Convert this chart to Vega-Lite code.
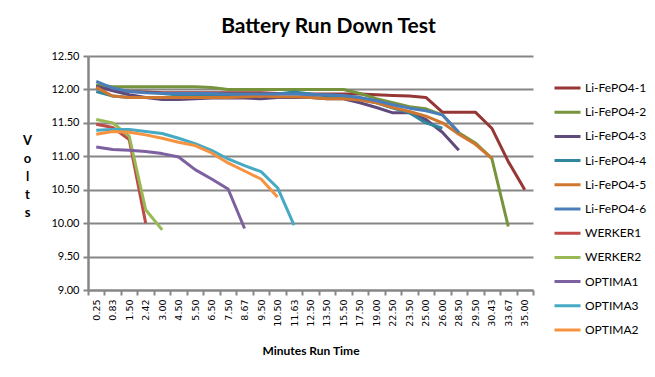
{
  "$schema": "https://vega.github.io/schema/vega-lite/v6.json",
  "width": 445,
  "height": 234,
  "autosize": {"type": "none"},
  "padding": {"left": 88, "top": 56, "right": 122, "bottom": 87},
  "background": "white",
  "title": {"text": "Battery Run Down Test", "font": "Lato", "fontSize": 21, "fontWeight": "bold", "color": "#000000", "anchor": "middle", "dx": 18, "baseline": "alphabetic", "offset": -4},
  "config": {"view": {"stroke": null}},
  "data": {"values": [
    {"Minutes":"0.25","Series":"Li-FePO4-1","Volts":12.05},{"Minutes":"0.83","Series":"Li-FePO4-1","Volts":12.00},{"Minutes":"1.50","Series":"Li-FePO4-1","Volts":11.97},{"Minutes":"2.42","Series":"Li-FePO4-1","Volts":11.96},{"Minutes":"3.00","Series":"Li-FePO4-1","Volts":11.95},{"Minutes":"4.50","Series":"Li-FePO4-1","Volts":11.95},{"Minutes":"5.50","Series":"Li-FePO4-1","Volts":11.95},{"Minutes":"6.50","Series":"Li-FePO4-1","Volts":11.95},{"Minutes":"7.50","Series":"Li-FePO4-1","Volts":11.95},{"Minutes":"8.67","Series":"Li-FePO4-1","Volts":11.95},{"Minutes":"9.50","Series":"Li-FePO4-1","Volts":11.95},{"Minutes":"10.50","Series":"Li-FePO4-1","Volts":11.94},{"Minutes":"11.63","Series":"Li-FePO4-1","Volts":11.94},{"Minutes":"12.50","Series":"Li-FePO4-1","Volts":11.93},{"Minutes":"13.50","Series":"Li-FePO4-1","Volts":11.93},{"Minutes":"15.50","Series":"Li-FePO4-1","Volts":11.93},{"Minutes":"17.50","Series":"Li-FePO4-1","Volts":11.93},{"Minutes":"19.00","Series":"Li-FePO4-1","Volts":11.92},{"Minutes":"22.50","Series":"Li-FePO4-1","Volts":11.91},{"Minutes":"23.50","Series":"Li-FePO4-1","Volts":11.90},{"Minutes":"25.00","Series":"Li-FePO4-1","Volts":11.88},{"Minutes":"26.00","Series":"Li-FePO4-1","Volts":11.66},{"Minutes":"28.50","Series":"Li-FePO4-1","Volts":11.66},{"Minutes":"29.50","Series":"Li-FePO4-1","Volts":11.66},{"Minutes":"30.43","Series":"Li-FePO4-1","Volts":11.42},{"Minutes":"33.67","Series":"Li-FePO4-1","Volts":10.92},{"Minutes":"35.00","Series":"Li-FePO4-1","Volts":10.50},
    {"Minutes":"0.25","Series":"Li-FePO4-2","Volts":12.07},{"Minutes":"0.83","Series":"Li-FePO4-2","Volts":12.04},{"Minutes":"1.50","Series":"Li-FePO4-2","Volts":12.04},{"Minutes":"2.42","Series":"Li-FePO4-2","Volts":12.04},{"Minutes":"3.00","Series":"Li-FePO4-2","Volts":12.04},{"Minutes":"4.50","Series":"Li-FePO4-2","Volts":12.04},{"Minutes":"5.50","Series":"Li-FePO4-2","Volts":12.04},{"Minutes":"6.50","Series":"Li-FePO4-2","Volts":12.03},{"Minutes":"7.50","Series":"Li-FePO4-2","Volts":12.00},{"Minutes":"8.67","Series":"Li-FePO4-2","Volts":12.00},{"Minutes":"9.50","Series":"Li-FePO4-2","Volts":12.00},{"Minutes":"10.50","Series":"Li-FePO4-2","Volts":12.00},{"Minutes":"11.63","Series":"Li-FePO4-2","Volts":12.00},{"Minutes":"12.50","Series":"Li-FePO4-2","Volts":12.00},{"Minutes":"13.50","Series":"Li-FePO4-2","Volts":12.00},{"Minutes":"15.50","Series":"Li-FePO4-2","Volts":12.00},{"Minutes":"17.50","Series":"Li-FePO4-2","Volts":11.94},{"Minutes":"19.00","Series":"Li-FePO4-2","Volts":11.86},{"Minutes":"22.50","Series":"Li-FePO4-2","Volts":11.80},{"Minutes":"23.50","Series":"Li-FePO4-2","Volts":11.74},{"Minutes":"25.00","Series":"Li-FePO4-2","Volts":11.71},{"Minutes":"26.00","Series":"Li-FePO4-2","Volts":11.62},{"Minutes":"28.50","Series":"Li-FePO4-2","Volts":11.35},{"Minutes":"29.50","Series":"Li-FePO4-2","Volts":11.20},{"Minutes":"30.43","Series":"Li-FePO4-2","Volts":10.97},{"Minutes":"33.67","Series":"Li-FePO4-2","Volts":9.95},
    {"Minutes":"0.25","Series":"Li-FePO4-3","Volts":12.05},{"Minutes":"0.83","Series":"Li-FePO4-3","Volts":11.98},{"Minutes":"1.50","Series":"Li-FePO4-3","Volts":11.92},{"Minutes":"2.42","Series":"Li-FePO4-3","Volts":11.88},{"Minutes":"3.00","Series":"Li-FePO4-3","Volts":11.85},{"Minutes":"4.50","Series":"Li-FePO4-3","Volts":11.85},{"Minutes":"5.50","Series":"Li-FePO4-3","Volts":11.86},{"Minutes":"6.50","Series":"Li-FePO4-3","Volts":11.87},{"Minutes":"7.50","Series":"Li-FePO4-3","Volts":11.87},{"Minutes":"8.67","Series":"Li-FePO4-3","Volts":11.87},{"Minutes":"9.50","Series":"Li-FePO4-3","Volts":11.86},{"Minutes":"10.50","Series":"Li-FePO4-3","Volts":11.88},{"Minutes":"11.63","Series":"Li-FePO4-3","Volts":11.88},{"Minutes":"12.50","Series":"Li-FePO4-3","Volts":11.88},{"Minutes":"13.50","Series":"Li-FePO4-3","Volts":11.86},{"Minutes":"15.50","Series":"Li-FePO4-3","Volts":11.86},{"Minutes":"17.50","Series":"Li-FePO4-3","Volts":11.80},{"Minutes":"19.00","Series":"Li-FePO4-3","Volts":11.73},{"Minutes":"22.50","Series":"Li-FePO4-3","Volts":11.65},{"Minutes":"23.50","Series":"Li-FePO4-3","Volts":11.65},{"Minutes":"25.00","Series":"Li-FePO4-3","Volts":11.55},{"Minutes":"26.00","Series":"Li-FePO4-3","Volts":11.36},{"Minutes":"28.50","Series":"Li-FePO4-3","Volts":11.09},
    {"Minutes":"0.25","Series":"Li-FePO4-4","Volts":11.97},{"Minutes":"0.83","Series":"Li-FePO4-4","Volts":11.90},{"Minutes":"1.50","Series":"Li-FePO4-4","Volts":11.88},{"Minutes":"2.42","Series":"Li-FePO4-4","Volts":11.88},{"Minutes":"3.00","Series":"Li-FePO4-4","Volts":11.88},{"Minutes":"4.50","Series":"Li-FePO4-4","Volts":11.90},{"Minutes":"5.50","Series":"Li-FePO4-4","Volts":11.90},{"Minutes":"6.50","Series":"Li-FePO4-4","Volts":11.90},{"Minutes":"7.50","Series":"Li-FePO4-4","Volts":11.90},{"Minutes":"8.67","Series":"Li-FePO4-4","Volts":11.90},{"Minutes":"9.50","Series":"Li-FePO4-4","Volts":11.92},{"Minutes":"10.50","Series":"Li-FePO4-4","Volts":11.93},{"Minutes":"11.63","Series":"Li-FePO4-4","Volts":11.96},{"Minutes":"12.50","Series":"Li-FePO4-4","Volts":11.93},{"Minutes":"13.50","Series":"Li-FePO4-4","Volts":11.90},{"Minutes":"15.50","Series":"Li-FePO4-4","Volts":11.88},{"Minutes":"17.50","Series":"Li-FePO4-4","Volts":11.85},{"Minutes":"19.00","Series":"Li-FePO4-4","Volts":11.80},{"Minutes":"22.50","Series":"Li-FePO4-4","Volts":11.72},{"Minutes":"23.50","Series":"Li-FePO4-4","Volts":11.65},{"Minutes":"25.00","Series":"Li-FePO4-4","Volts":11.50},{"Minutes":"26.00","Series":"Li-FePO4-4","Volts":11.42},
    {"Minutes":"0.25","Series":"Li-FePO4-5","Volts":12.03},{"Minutes":"0.83","Series":"Li-FePO4-5","Volts":11.90},{"Minutes":"1.50","Series":"Li-FePO4-5","Volts":11.88},{"Minutes":"2.42","Series":"Li-FePO4-5","Volts":11.88},{"Minutes":"3.00","Series":"Li-FePO4-5","Volts":11.88},{"Minutes":"4.50","Series":"Li-FePO4-5","Volts":11.88},{"Minutes":"5.50","Series":"Li-FePO4-5","Volts":11.88},{"Minutes":"6.50","Series":"Li-FePO4-5","Volts":11.88},{"Minutes":"7.50","Series":"Li-FePO4-5","Volts":11.88},{"Minutes":"8.67","Series":"Li-FePO4-5","Volts":11.89},{"Minutes":"9.50","Series":"Li-FePO4-5","Volts":11.90},{"Minutes":"10.50","Series":"Li-FePO4-5","Volts":11.89},{"Minutes":"11.63","Series":"Li-FePO4-5","Volts":11.89},{"Minutes":"12.50","Series":"Li-FePO4-5","Volts":11.88},{"Minutes":"13.50","Series":"Li-FePO4-5","Volts":11.86},{"Minutes":"15.50","Series":"Li-FePO4-5","Volts":11.86},{"Minutes":"17.50","Series":"Li-FePO4-5","Volts":11.84},{"Minutes":"19.00","Series":"Li-FePO4-5","Volts":11.80},{"Minutes":"22.50","Series":"Li-FePO4-5","Volts":11.73},{"Minutes":"23.50","Series":"Li-FePO4-5","Volts":11.67},{"Minutes":"25.00","Series":"Li-FePO4-5","Volts":11.60},{"Minutes":"26.00","Series":"Li-FePO4-5","Volts":11.50},{"Minutes":"28.50","Series":"Li-FePO4-5","Volts":11.33},{"Minutes":"29.50","Series":"Li-FePO4-5","Volts":11.18},{"Minutes":"30.43","Series":"Li-FePO4-5","Volts":10.97},
    {"Minutes":"0.25","Series":"Li-FePO4-6","Volts":12.12},{"Minutes":"0.83","Series":"Li-FePO4-6","Volts":12.02},{"Minutes":"1.50","Series":"Li-FePO4-6","Volts":11.97},{"Minutes":"2.42","Series":"Li-FePO4-6","Volts":11.95},{"Minutes":"3.00","Series":"Li-FePO4-6","Volts":11.94},{"Minutes":"4.50","Series":"Li-FePO4-6","Volts":11.94},{"Minutes":"5.50","Series":"Li-FePO4-6","Volts":11.94},{"Minutes":"6.50","Series":"Li-FePO4-6","Volts":11.94},{"Minutes":"7.50","Series":"Li-FePO4-6","Volts":11.93},{"Minutes":"8.67","Series":"Li-FePO4-6","Volts":11.93},{"Minutes":"9.50","Series":"Li-FePO4-6","Volts":11.93},{"Minutes":"10.50","Series":"Li-FePO4-6","Volts":11.93},{"Minutes":"11.63","Series":"Li-FePO4-6","Volts":11.93},{"Minutes":"12.50","Series":"Li-FePO4-6","Volts":11.92},{"Minutes":"13.50","Series":"Li-FePO4-6","Volts":11.92},{"Minutes":"15.50","Series":"Li-FePO4-6","Volts":11.91},{"Minutes":"17.50","Series":"Li-FePO4-6","Volts":11.88},{"Minutes":"19.00","Series":"Li-FePO4-6","Volts":11.83},{"Minutes":"22.50","Series":"Li-FePO4-6","Volts":11.77},{"Minutes":"23.50","Series":"Li-FePO4-6","Volts":11.72},{"Minutes":"25.00","Series":"Li-FePO4-6","Volts":11.68},{"Minutes":"26.00","Series":"Li-FePO4-6","Volts":11.62},{"Minutes":"28.50","Series":"Li-FePO4-6","Volts":11.36},
    {"Minutes":"0.25","Series":"WERKER1","Volts":11.48},{"Minutes":"0.83","Series":"WERKER1","Volts":11.43},{"Minutes":"1.50","Series":"WERKER1","Volts":11.25},{"Minutes":"2.42","Series":"WERKER1","Volts":10.00},
    {"Minutes":"0.25","Series":"WERKER2","Volts":11.55},{"Minutes":"0.83","Series":"WERKER2","Volts":11.50},{"Minutes":"1.50","Series":"WERKER2","Volts":11.30},{"Minutes":"2.42","Series":"WERKER2","Volts":10.20},{"Minutes":"3.00","Series":"WERKER2","Volts":9.90},
    {"Minutes":"0.25","Series":"OPTIMA1","Volts":11.14},{"Minutes":"0.83","Series":"OPTIMA1","Volts":11.10},{"Minutes":"1.50","Series":"OPTIMA1","Volts":11.09},{"Minutes":"2.42","Series":"OPTIMA1","Volts":11.07},{"Minutes":"3.00","Series":"OPTIMA1","Volts":11.04},{"Minutes":"4.50","Series":"OPTIMA1","Volts":10.99},{"Minutes":"5.50","Series":"OPTIMA1","Volts":10.80},{"Minutes":"6.50","Series":"OPTIMA1","Volts":10.66},{"Minutes":"7.50","Series":"OPTIMA1","Volts":10.51},{"Minutes":"8.67","Series":"OPTIMA1","Volts":9.92},
    {"Minutes":"0.25","Series":"OPTIMA3","Volts":11.39},{"Minutes":"0.83","Series":"OPTIMA3","Volts":11.40},{"Minutes":"1.50","Series":"OPTIMA3","Volts":11.40},{"Minutes":"2.42","Series":"OPTIMA3","Volts":11.37},{"Minutes":"3.00","Series":"OPTIMA3","Volts":11.34},{"Minutes":"4.50","Series":"OPTIMA3","Volts":11.27},{"Minutes":"5.50","Series":"OPTIMA3","Volts":11.19},{"Minutes":"6.50","Series":"OPTIMA3","Volts":11.09},{"Minutes":"7.50","Series":"OPTIMA3","Volts":10.96},{"Minutes":"8.67","Series":"OPTIMA3","Volts":10.86},{"Minutes":"9.50","Series":"OPTIMA3","Volts":10.77},{"Minutes":"10.50","Series":"OPTIMA3","Volts":10.53},{"Minutes":"11.63","Series":"OPTIMA3","Volts":9.97},
    {"Minutes":"0.25","Series":"OPTIMA2","Volts":11.33},{"Minutes":"0.83","Series":"OPTIMA2","Volts":11.37},{"Minutes":"1.50","Series":"OPTIMA2","Volts":11.36},{"Minutes":"2.42","Series":"OPTIMA2","Volts":11.32},{"Minutes":"3.00","Series":"OPTIMA2","Volts":11.27},{"Minutes":"4.50","Series":"OPTIMA2","Volts":11.21},{"Minutes":"5.50","Series":"OPTIMA2","Volts":11.16},{"Minutes":"6.50","Series":"OPTIMA2","Volts":11.05},{"Minutes":"7.50","Series":"OPTIMA2","Volts":10.90},{"Minutes":"8.67","Series":"OPTIMA2","Volts":10.78},{"Minutes":"9.50","Series":"OPTIMA2","Volts":10.66},{"Minutes":"10.50","Series":"OPTIMA2","Volts":10.39}
  ]},
  "mark": {"type": "line", "strokeWidth": 3, "strokeJoin": "round", "strokeCap": "butt"},
  "encoding": {
    "x": {
      "field": "Minutes", "type": "ordinal", "bandPosition": 0.5,
      "scale": {"type": "band", "paddingInner": 0, "paddingOuter": 0, "domain": ["0.25","0.83","1.50","2.42","3.00","4.50","5.50","6.50","7.50","8.67","9.50","10.50","11.63","12.50","13.50","15.50","17.50","19.00","22.50","23.50","25.00","26.00","28.50","29.50","30.43","33.67","35.00"]},
      "axis": {
        "title": "Minutes Run Time", "titleFont": "Lato", "titleFontSize": 12, "titleFontWeight": "bold", "titleColor": "#000000", "titlePadding": 19,
        "labelAngle": -90, "labelFont": "DejaVu Sans", "labelFontSize": 9.5, "labelColor": "#000000", "labelPadding": 4,
        "tickBand": "extent", "tickSize": 5, "tickColor": "#868686", "tickWidth": 2,
        "domainColor": "#868686", "domainWidth": 2, "grid": false
      }
    },
    "y": {
      "field": "Volts", "type": "quantitative",
      "scale": {"domain": [9, 12.5], "nice": false, "zero": false},
      "axis": {
        "values": [9, 9.5, 10, 10.5, 11, 11.5, 12, 12.5], "format": ".2f",
        "labelFont": "Lato", "labelFontSize": 11, "labelColor": "#000000", "labelPadding": 4,
        "tickSize": 5, "tickColor": "#868686", "tickWidth": 2,
        "domainColor": "#868686", "domainWidth": 2.5,
        "grid": true, "gridColor": "#868686", "gridWidth": 2,
        "title": ["V", "o", "l", "t", "s"], "titleAngle": 0, "titleAlign": "center", "titleBaseline": "alphabetic",
        "titleX": -61, "titleY": 88, "titleFont": "Lato", "titleFontSize": 13, "titleFontWeight": "bold", "titleColor": "#000000", "titleLineHeight": 18
      }
    },
    "color": {
      "field": "Series", "type": "nominal",
      "scale": {
        "domain": ["Li-FePO4-1","Li-FePO4-2","Li-FePO4-3","Li-FePO4-4","Li-FePO4-5","Li-FePO4-6","WERKER1","WERKER2","OPTIMA1","OPTIMA3","OPTIMA2"],
        "range": ["#953735","#77933C","#604A7B","#31859C","#D0772F","#4A7EBB","#BE4B48","#98B954","#7D60A0","#46AAC5","#F69240"]
      },
      "legend": {
        "title": null, "orient": "none", "legendX": 465, "legendY": 22,
        "symbolType": "stroke", "symbolSize": 676, "symbolStrokeWidth": 3,
        "labelFont": "Lato", "labelFontSize": 12, "labelColor": "#000000", "labelOffset": 3,
        "clipHeight": 20, "rowPadding": 4.2
      }
    }
  }
}
